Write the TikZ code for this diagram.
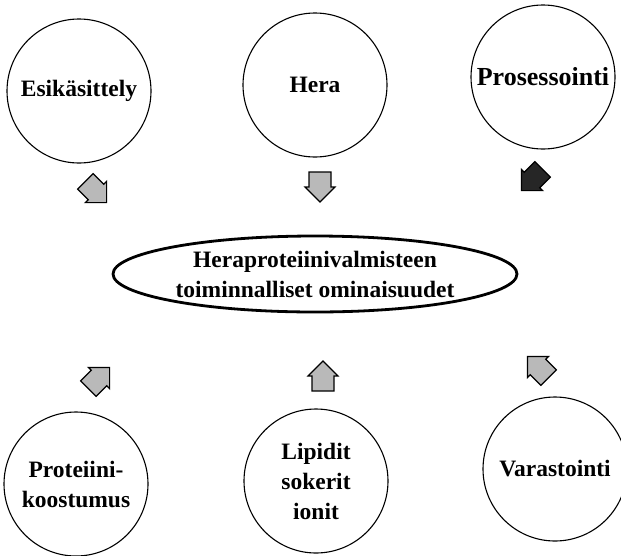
\documentclass[tikz,border=0pt]{standalone}
\usepackage{fontspec}
\setmainfont{Liberation Serif}
\usetikzlibrary{shapes.geometric}
\tikzset{
  txt/.style={font=\bfseries\fontsize{23.5}{30}\selectfont},
  bubble/.style={circle, draw, line width=1.1pt, minimum size=144pt, inner sep=0pt, align=center, txt},
  core/.style={ellipse, draw, line width=2.8pt, minimum width=404pt, minimum height=76pt, inner sep=0pt, align=center, txt},
  pics/barrow/.style={code={
    \draw[line width=1.2pt, fill=#1, line join=miter]
      (15pt,0pt) -- (0pt,15pt) -- (0pt,11pt) -- (-15pt,11pt) -- (-15pt,-11pt)
      -- (0pt,-11pt) -- (0pt,-15pt) -- cycle;}},
  pics/barrow/.default=gray!55
}
\begin{document}
\begin{tikzpicture}[x=1pt,y=-1pt]
\useasboundingbox (0,0) rectangle (621,555);
\node[bubble] (esi) at (79,91) {Esikäsittely};
\node[bubble] (hera) at (315,85) {Hera};
\node[bubble, font=\bfseries\fontsize{26}{30}\selectfont] (pros) at (543,77) {Prosessointi};
\node[core] (core) at (315,274) {Heraproteiinivalmisteen\\toiminnalliset ominaisuudet};
\node[bubble] (prot) at (76,484) {Proteiini-\\koostumus};
\node[bubble] (lip) at (316,481) {Lipidit\\sokerit\\ionit};
\node[bubble] (var) at (555,469) {Varastointi};
% block arrows pointing to the central ellipse
\pic[rotate=-45] at (96,192) {barrow};
\pic[rotate=-90] at (320,187) {barrow};
\pic[rotate=-135] at (532,180) {barrow=black!85};
\pic[rotate=45] at (99,378) {barrow};
\pic[rotate=90] at (323,376) {barrow};
\pic[rotate=135] at (538,367) {barrow};
\end{tikzpicture}
\end{document}
